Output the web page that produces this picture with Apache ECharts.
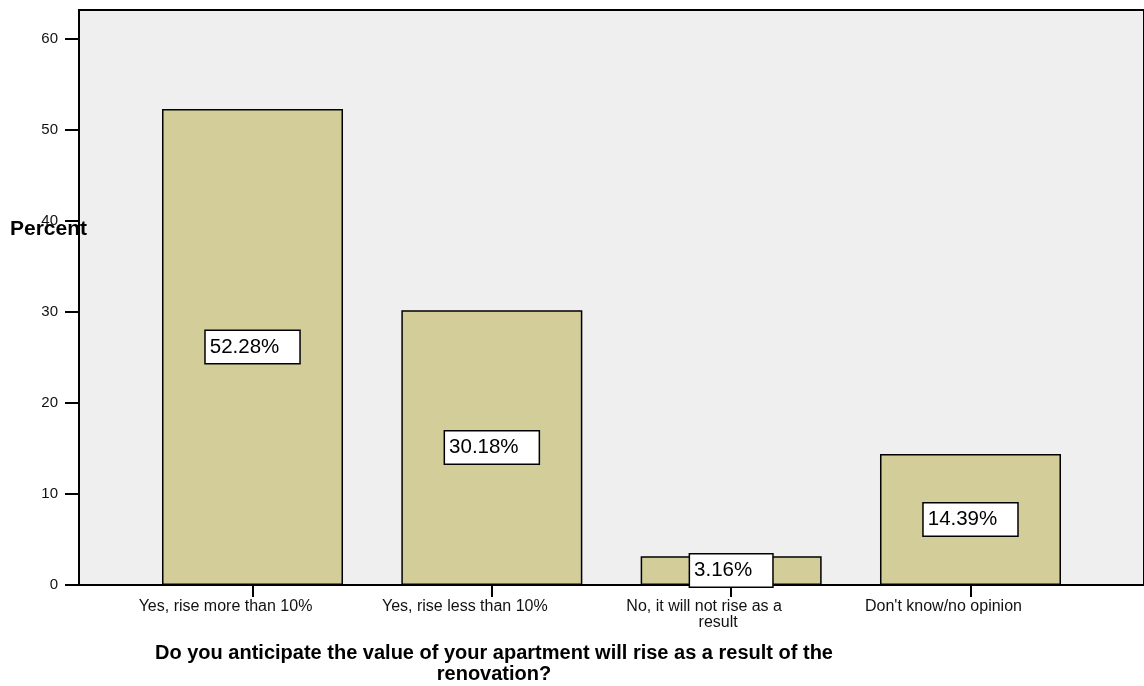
<!DOCTYPE html>
<html>
<head>
<meta charset="utf-8">
<script src="https://cdn.jsdelivr.net/npm/echarts@6/dist/echarts.min.js"></script>
<style>
  html, body { margin: 0; padding: 0; background: #fff; }
  #chart { width: 1144px; height: 686px; }
</style>
</head>
<body>
<div id="chart"></div>
<script>
// Survey answers and their share of respondents (percent)
const categories = [
  "Yes, rise more than 10%",
  "Yes, rise less than 10%",
  "No, it will not rise as a\nresult",
  "Don't know/no opinion"
];
const percents = [52.28, 30.18, 3.16, 14.39];
const yTicks = [0, 10, 20, 30, 40, 50, 60];
const yTitle = "Percent";
const xTitle = "Do you anticipate the value of your apartment will rise as a result of the\nrenovation?";

const FONT = "Liberation Sans, Arial, Helvetica, sans-serif";
const catIndex = categories.map((_, i) => i);

// Category labels sit slightly left of their tick; wrapped second lines are nudged right
function categoryLabel(v) {
  const lines = categories[Math.round(v)].split("\n");
  return lines.map((s, k) => (k === 0 ? "{a|" + s + "}" : "{b|" + s + "}")).join("\n");
}

const chart = echarts.init(document.getElementById("chart"), null, { renderer: "canvas" });

chart.setOption({
  animation: false,
  backgroundColor: "#ffffff",
  textStyle: { fontFamily: FONT },
  title: {
    text: xTitle,
    left: 489,
    top: 638,
    textAlign: "center",
    textStyle: { fontFamily: FONT, fontSize: 20, fontWeight: "bold", color: "#000", lineHeight: 21 }
  },
  graphic: [{
    type: "text",
    x: 10,
    y: 229,
    style: {
      text: yTitle, fontFamily: FONT, fontSize: 21, fontWeight: "bold", fill: "#000",
      verticalAlign: "middle"
    },
    z: 100
  }],
  grid: {
    left: 79, top: 10, right: -3, bottom: 101,
    show: true,
    backgroundColor: "#efefef",
    borderColor: "#000",
    borderWidth: 2
  },
  xAxis: {
    type: "value",
    min: -0.725,
    max: 3.725,
    splitLine: { show: false },
    axisLine: { show: true, onZero: false, lineStyle: { color: "#000", width: 2 } },
    axisTick: { show: true, length: 12, customValues: catIndex, lineStyle: { color: "#000", width: 2 } },
    axisLabel: {
      customValues: catIndex,
      formatter: categoryLabel,
      fontFamily: FONT, fontSize: 16, color: "#111", margin: 14, lineHeight: 16, align: "center",
      padding: [0, 54, 0, 0],
      rich: {
        a: { fontFamily: FONT, fontSize: 16, color: "#111", lineHeight: 16 },
        b: { fontFamily: FONT, fontSize: 16, color: "#111", lineHeight: 16, padding: [0, 0, 0, 28] }
      }
    }
  },
  yAxis: {
    type: "value",
    min: 0,
    max: 63.15,
    interval: 10,
    splitLine: { show: false },
    axisLine: { show: true, onZero: false, lineStyle: { color: "#000", width: 2 } },
    axisTick: { show: true, length: 14, customValues: yTicks, lineStyle: { color: "#000", width: 2 } },
    axisLabel: {
      customValues: yTicks,
      fontFamily: FONT, fontSize: 15, color: "#111", margin: 21
    }
  },
  series: [{
    type: "bar",
    barWidth: 181,
    data: percents.map((v, i) => [i, v]),
    itemStyle: { color: "#d3ce99", borderColor: "#000", borderWidth: 1.5 },
    label: {
      show: true,
      position: "inside",
      formatter: p => p.value[1].toFixed(2) + "%",
      fontFamily: FONT,
      fontSize: 20.5,
      color: "#000",
      backgroundColor: "#fff",
      borderColor: "#000",
      borderWidth: 1.5,
      padding: [6, 20, 5, 4]
    }
  }]
});
</script>
</body>
</html>
